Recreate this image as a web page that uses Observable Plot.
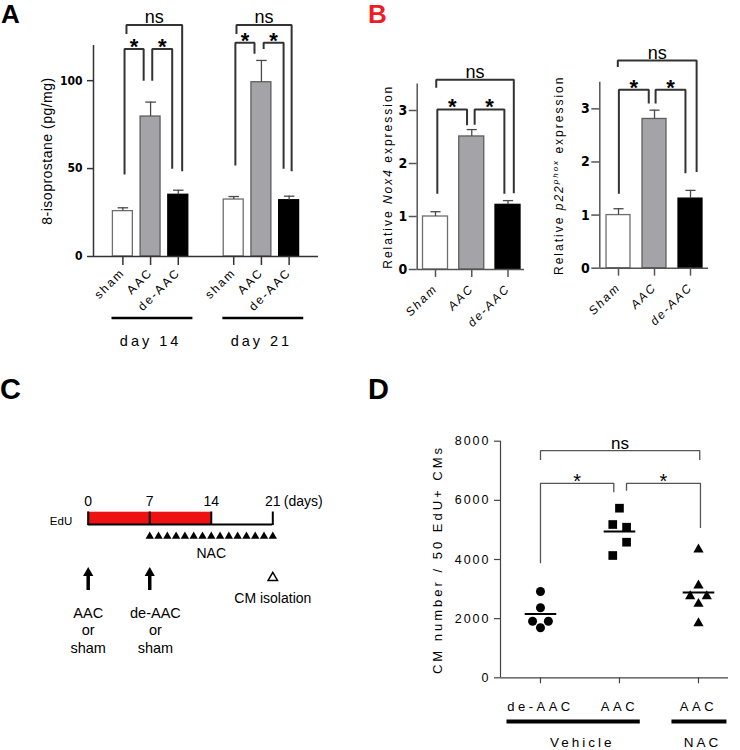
<!DOCTYPE html>
<html>
<head>
<meta charset="utf-8">
<script src="https://cdn.jsdelivr.net/npm/d3@7"></script>
<script src="https://cdn.jsdelivr.net/npm/@observablehq/plot@0.6"></script>
<style>
  body { margin: 0; background: #fff; }
  #root { position: relative; width: 740px; height: 750px; overflow: hidden; background: #fff;
          font-family: "Liberation Sans", Arial, Helvetica, sans-serif; color: #000; }
  .letter { position: absolute; font-weight: bold; line-height: 1; }
  #pA g[aria-label="x-axis tick label"] text { font-size: 12px; letter-spacing: 2px; }
  #pB1 g[aria-label="x-axis tick label"] text,
  #pB2 g[aria-label="x-axis tick label"] text { font-size: 12px; letter-spacing: 2px; font-style: italic; }
  #pA g[aria-label="y-axis tick label"] text,
  #pB1 g[aria-label="y-axis tick label"] text,
  #pB2 g[aria-label="y-axis tick label"] text {
    font-family: "Liberation Sans Narrow", "Arial Narrow", "DejaVu Sans Condensed", "Roboto Condensed", "Liberation Sans", sans-serif;
    font-weight: bold; font-stretch: condensed; }
  #pD g[aria-label="y-axis tick label"] text { letter-spacing: 2px; }
  #pD g[aria-label="x-axis tick label"] text { letter-spacing: 3.5px; }
  g[aria-description="a-ylabel"] text { letter-spacing: 0.5px; }
  g[aria-description="d-ylabel"] text { letter-spacing: 3px; }
  g[aria-description="group-label"] text { letter-spacing: 3px; }
</style>
</head>
<body>
<div id="root">
  <div class="letter" style="left:1px;top:1px;font-size:26px;">A</div>
  <div class="letter" style="left:368px;top:1px;font-size:26px;color:#ee1c24;">B</div>
  <div class="letter" style="left:0px;top:375px;font-size:29px;">C</div>
  <div class="letter" style="left:368px;top:375px;font-size:29px;">D</div>
</div>
<script>
const FONT = '"Liberation Sans", Arial, Helvetica, sans-serif';

// ---------------- Panel A: 8-isoprostane ----------------
const aCategories = ["sham", "AAC", "de-AAC"];
const aGroups = ["day 14", "day 21"];
const aDay14Mean = [25.8, 79.6, 35.1];
const aDay14Sem  = [1.9, 8.2, 2.6];
const aDay21Mean = [32.4, 99.1, 32.0];
const aDay21Sem  = [1.7, 12.4, 2.3];
const aYTicks = [0, 50, 100];
const aYLabel = "8-isoprostane (pg/mg)";
const aBrackets = [
  {x1: 0.06, x2: 0.75, top: 118,   y1: 46.6,  y2: 100,  label: "*"},
  {x1: 1.06, x2: 1.78, top: 118,   y1: 100,   y2: 49.9, label: "*"},
  {x1: 0.13, x2: 2.14, top: 131.6, y1: 126.6, y2: 48.5, label: "ns"},
  {x1: 4.06, x2: 4.75, top: 121.5, y1: 51.8,  y2: 115.3, label: "*"},
  {x1: 5.08, x2: 5.80, top: 121.5, y1: 118,   y2: 49.9, label: "*"},
  {x1: 4.10, x2: 6.09, top: 131.6, y1: 126.6, y2: 48.5, label: "ns"}
];

// ---------------- Panel B: Nox4 and p22phox ----------------
const bCategories = ["Sham", "AAC", "de-AAC"];
const nox4Mean = [1.0, 2.51, 1.22];
const nox4Sem  = [0.09, 0.13, 0.08];
const p22Mean  = [1.0, 2.81, 1.31];
const p22Sem   = [0.12, 0.165, 0.155];
const bYTicks = [0, 1, 2, 3];
const nox4Brackets = [
  {x1: 0.05, x2: 0.87, top: 3.02, y1: 1.43, y2: 2.72, label: "*"},
  {x1: 1.08, x2: 1.90, top: 3.02, y1: 2.73, y2: 1.43, label: "*"},
  {x1: 0.02, x2: 2.16, top: 3.58, y1: 3.43, y2: 1.44, label: "ns"}
];
const p22Brackets = [
  {x1: 0.01, x2: 0.84, top: 3.36, y1: 1.40, y2: 3.10, label: "*"},
  {x1: 1.03, x2: 1.86, top: 3.36, y1: 3.10, y2: 1.79, label: "*"},
  {x1: -0.02, x2: 2.17, top: 3.91, y1: 3.79, y2: 1.81, label: "ns"}
];

// ---------------- Panel C: protocol timeline ----------------
const cDays = [0, 7, 14, 21];
const cDayLabels = ["0", "7", "14", "21"];
const cEduPeriod = [0, 14];
const cNacDays = [7, 8, 9, 10, 11, 12, 13, 14, 15, 16, 17, 18, 19, 20, 21];
const cEvents = [
  {day: 0, textDay: 0,    text: "AAC\nor\nsham"},
  {day: 7, textDay: 7.65, text: "de-AAC\nor\nsham"}
];
const cIsolationDay = 21;

// ---------------- Panel D: CM number ----------------
const dCategories = ["de-AAC", "AAC", "AAC"];
const dDeAAC = [2918, 2367, 1914, 1914, 1691];
const dDeAACJitter = [0, 0, -0.10, 0.10, 0];
const dAAC = [5735, 5183, 5092, 4585, 4135];
const dAACJitter = [0, -0.085, 0.09, 0.09, -0.085];
const dNAC = [4338, 3121, 2759, 2759, 2502, 1846];
const dNACJitter = [0, 0, -0.105, 0.105, 0, 0];
const dYTicks = [0, 2000, 4000, 6000, 8000];
const dYLabel = "CM number / 50 EdU+ CMs";
const dGroups = [
  {name: "Vehicle", x1: -0.43, x2: 1.257, at: 0.53},
  {name: "NAC",     x1: 1.658, x2: 2.354, at: 2.05}
];
const dBrackets = [
  {x1: 0,     x2: 0.928, top: 6574, y1: 3872, y2: 6270, label: "*"},
  {x1: 1.089, x2: 2.025, top: 6574, y1: 6326, y2: 5068, label: "*"},
  {x1: 0,     x2: 2.016, top: 7679, y1: 7365, y2: 7365, label: "ns"}
];

// ---------------- helpers ----------------
const intFmt = d => String(d);
const barStyle = [
  {fill: "#ffffff", stroke: "#6e6e6e"},
  {fill: "#a4a4a8", stroke: "#5e5e5e"},
  {fill: "#000000", stroke: "#000000"}
];

function place(node, id, left, top) {
  node.id = id;
  node.style.position = "absolute";
  node.style.left = left + "px";
  node.style.top = top + "px";
  node.style.overflow = "visible";
  document.getElementById("root").append(node);
  return node;
}

function bracketPoints(brs) {
  return brs.flatMap((b, i) => [
    {id: i, x: b.x1, y: b.y1},
    {id: i, x: b.x1, y: b.top},
    {id: i, x: b.x2, y: b.top},
    {id: i, x: b.x2, y: b.y2}
  ]);
}

function bracketMarks(brs, o) {
  return [
    Plot.line(bracketPoints(brs), {x: "x", y: "y", z: "id", stroke: o.stroke, strokeWidth: o.width,
      strokeLinejoin: "miter", strokeLinecap: "butt"}),
    Plot.text(brs.filter(b => b.label === "*"), {x: b => (b.x1 + b.x2) / 2, y: "top", text: "label",
      fontSize: o.starSize, fontWeight: o.starWeight, lineAnchor: "bottom", dy: o.starDy, fill: "#000"}),
    Plot.text(brs.filter(b => b.label === "ns"), {x: b => (b.x1 + b.x2) / 2, y: "top", text: "label",
      fontSize: o.nsSize, lineAnchor: "bottom", dy: o.nsDy, fill: "#000"})
  ];
}

function barMarks(bars, hw, capHw) {
  return [
    ...barStyle.map((s, ci) => Plot.rect(bars.filter(d => d.ci === ci), {
      x1: d => d.pos - hw, x2: d => d.pos + hw, y1: 0, y2: "mean",
      fill: s.fill, stroke: s.stroke, strokeWidth: 1.3})),
    Plot.ruleX(bars, {x: "pos", y1: "mean", y2: d => d.mean + d.sem, stroke: "#4a4a4a", strokeWidth: 1.3}),
    Plot.link(bars, {x1: d => d.pos - capHw, x2: d => d.pos + capHw,
      y1: d => d.mean + d.sem, y2: d => d.mean + d.sem, stroke: "#4a4a4a", strokeWidth: 1.3})
  ];
}

// ---------------- Panel A ----------------
const aBars = aGroups.flatMap((g, gi) => aCategories.map((c, ci) => ({
  group: g, cat: c, ci, pos: gi * 4 + ci,
  mean: gi ? aDay21Mean[ci] : aDay14Mean[ci],
  sem: gi ? aDay21Sem[ci] : aDay14Sem[ci]
})));
const aSpans = aGroups.map((g, gi) => ({name: g, x1: gi * 4 - 0.41, x2: gi * 4 + 2.51, at: gi * 4 + 1}));

const plotA = Plot.plot({
  width: 370, height: 350,
  marginLeft: 93, marginRight: 52, marginTop: 45, marginBottom: 94,
  x: {domain: [-1.06, 7.06]},
  y: {domain: [0, 120]},
  style: {fontFamily: FONT, color: "#000", overflow: "visible", background: "transparent"},
  marks: [
    ...barMarks(aBars, 0.36, 0.19),
    Plot.ruleY([0], {stroke: "#333", strokeWidth: 1.5}),
    Plot.ruleX([-1.06], {stroke: "#333", strokeWidth: 1.5}),
    Plot.axisY({ticks: aYTicks, tickFormat: intFmt, tickSize: 6, tickPadding: 5, fontSize: 12, fontWeight: "bold",
      stroke: "#333", strokeWidth: 1.5, label: null}),
    Plot.axisX({ticks: aBars.map(d => d.pos), tickFormat: p => aCategories[p % 4], tickRotate: -45,
      tickSize: 9, tickPadding: 5, fontSize: 12, stroke: "#333", strokeWidth: 1.5, label: null}),
    ...bracketMarks(aBrackets, {stroke: "#333", width: 2, starSize: 22, starWeight: "bold", starDy: 5, nsSize: 18, nsDy: -2}),
    Plot.link(aSpans, {x1: "x1", x2: "x2", y1: -35, y2: -35, stroke: "#000", strokeWidth: 2.5}),
    Plot.text(aSpans, {x: "at", y: -48.5, text: "name", fontSize: 14.5, lineAnchor: "middle", ariaDescription: "group-label"}),
    Plot.text([aYLabel], {frameAnchor: "left", rotate: -90, dx: -46, fontSize: 14, textAnchor: "middle",
      lineAnchor: "middle", ariaDescription: "a-ylabel"})
  ]
});
place(plotA, "pA", 0, 0);

// ---------------- Panel B ----------------
function bPanel(means, sems, brackets, geo, labelKey) {
  const bars = bCategories.map((c, ci) => ({cat: c, ci, pos: ci, mean: means[ci], sem: sems[ci]}));
  return Plot.plot({
    width: geo.width, height: 350,
    marginLeft: geo.ml, marginRight: geo.mr, marginTop: geo.mt, marginBottom: geo.mb,
    x: {domain: geo.xDomain},
    y: {domain: [0, 3.5]},
    style: {fontFamily: FONT, color: "#000", overflow: "visible", background: "transparent"},
    marks: [
      ...barMarks(bars, geo.hw, 0.14),
      Plot.ruleY([0], {stroke: "#555", strokeWidth: 1.5}),
      Plot.ruleX([geo.xDomain[0]], {stroke: "#555", strokeWidth: 1.5}),
      Plot.axisY({ticks: bYTicks, tickFormat: intFmt, tickSize: 8, tickPadding: 2, fontSize: 14, fontWeight: "bold",
        stroke: "#555", strokeWidth: 1.5, label: null}),
      Plot.axisX({ticks: bars.map(d => d.pos), tickFormat: p => bCategories[p], tickRotate: -45,
        tickSize: 8, tickPadding: 9, fontSize: 12, stroke: "#555", strokeWidth: 1.5, label: null}),
      ...bracketMarks(brackets, {stroke: "#333", width: 2, starSize: 22, starWeight: "bold", starDy: 5, nsSize: 18, nsDy: -2}),
      Plot.text([labelKey], {frameAnchor: "left", rotate: -90, dx: geo.labelDx, fontSize: 12, textAnchor: "middle",
        lineAnchor: "middle", ariaDescription: labelKey})
    ]
  });
}

const plotB1 = bPanel(nox4Mean, nox4Sem, nox4Brackets,
  {width: 175, ml: 46.7, mr: 21, mt: 83.5, mb: 81, xDomain: [-0.505, 2.455], hw: 0.345, labelDx: -29}, "nox4-label");
place(plotB1, "pB1", 370, 0);
const plotB2 = bPanel(p22Mean, p22Sem, p22Brackets,
  {width: 195, ml: 54.3, mr: 32, mt: 81.8, mb: 82.3, xDomain: [-0.52, 2.5], hw: 0.333, labelDx: -41}, "p22-label");
place(plotB2, "pB2", 545, 0);

function richLabel(svg, key, parts) {
  const t = d3.select(svg).selectAll("text").filter(function() { return this.textContent === key; });
  t.text(null).style("letter-spacing", "2px");
  parts.forEach(p => {
    const s = t.append("tspan").text(p.text);
    if (p.italic) s.attr("font-style", "italic");
    if (p.size) s.attr("font-size", p.size);
    if (p.dy) s.attr("dy", p.dy);
  });
}
richLabel(plotB1, "nox4-label", [{text: "Relative "}, {text: "Nox4", italic: true}, {text: " expression"}]);
richLabel(plotB2, "p22-label", [{text: "Relative "}, {text: "p22", italic: true},
  {text: "phox", italic: true, size: 8, dy: -5}, {text: " expression", dy: 5}]);

// ---------------- Panel C ----------------
// vertical layout levels of the diagram (top-down)
const plotC = Plot.plot({
  width: 370, height: 300,
  marginLeft: 87.7, marginRight: 97.7, marginTop: 0, marginBottom: 0,
  x: {domain: [0, 21], axis: null},
  y: {domain: [0, 300], range: [0, 300], axis: null},
  style: {fontFamily: FONT, color: "#000", overflow: "visible", background: "transparent"},
  marks: [
    Plot.rect([cEduPeriod], {x1: d => d[0], x2: d => d[1], y1: 141.7, y2: 154, fill: "#ee1111"}),
    Plot.ruleY([154], {x1: cDays[0], x2: cDays[cDays.length - 1], stroke: "#000", strokeWidth: 2}),
    Plot.ruleX(cDays, {y1: 141.5, y2: 155, stroke: "#000", strokeWidth: 2}),
    Plot.text(cDays, {x: d => d, y: 131.3, text: (d, i) => cDayLabels[i], fontSize: 14, lineAnchor: "middle"}),
    Plot.text(["(days)"], {x: cDays[cDays.length - 1], y: 131.3, dx: 11, textAnchor: "start", fontSize: 14, lineAnchor: "middle"}),
    Plot.text(["EdU"], {x: cEduPeriod[0], y: 150.5, dx: -16, textAnchor: "end", fontSize: 11.5, lineAnchor: "middle"}),
    Plot.dot(cNacDays, {x: d => d, y: 165.8, symbol: "triangle", r: 3.1, fill: "#000"}),
    Plot.text(["NAC"], {x: 14, y: 182.7, fontSize: 14, lineAnchor: "middle"}),
    Plot.ruleX(cEvents, {x: "day", y1: 204, y2: 220, stroke: "#000", strokeWidth: 3.5}),
    Plot.dot(cEvents, {x: "day", y: 202.5, symbol: "triangle", r: 3.8, fill: "#000"}),
    Plot.text(cEvents, {x: "textDay", y: 259.3, text: "text", fontSize: 14.5, lineHeight: 1.2, lineAnchor: "middle"}),
    Plot.dot([cIsolationDay], {x: d => d, y: 207.2, symbol: "triangle", r: 3.5, fill: "#fff", stroke: "#000", strokeWidth: 1.5}),
    Plot.text(["CM isolation"], {x: cIsolationDay, y: 228.3, fontSize: 14, lineAnchor: "middle"})
  ]
});
place(plotC, "pC", 0, 370);

// ---------------- Panel D ----------------
const dSets = [
  {ci: 0, values: dDeAAC, jitter: dDeAACJitter, symbol: "circle", r: 4.5},
  {ci: 1, values: dAAC, jitter: dAACJitter, symbol: "square", r: 4.9},
  {ci: 2, values: dNAC, jitter: dNACJitter, symbol: "triangle", r: 3.8}
];
const dMeans = dSets.map(s => ({ci: s.ci, mean: d3.mean(s.values)}));

const plotD = Plot.plot({
  width: 370, height: 380,
  marginLeft: 130, marginRight: 12, marginTop: 70.7, marginBottom: 72.7,
  x: {domain: [-0.506, 2.38]},
  y: {domain: [0, 8000]},
  style: {fontFamily: FONT, color: "#000", overflow: "visible", background: "transparent"},
  marks: [
    Plot.ruleY([0], {stroke: "#444", strokeWidth: 1.2}),
    Plot.ruleX([-0.506], {stroke: "#444", strokeWidth: 1.2}),
    Plot.axisY({ticks: dYTicks, tickFormat: intFmt, tickSize: 6, tickPadding: 4, fontSize: 12.5, stroke: "#444", strokeWidth: 1.2, label: null}),
    Plot.axisX({ticks: [0, 1, 2], tickFormat: i => dCategories[i], tickSize: 6, tickPadding: 18, fontSize: 13,
      stroke: "#444", strokeWidth: 1.2, label: null}),
    ...dSets.map(s => Plot.dot(s.values.map((v, i) => ({v, x: s.ci + s.jitter[i]})),
      {x: "x", y: "v", symbol: s.symbol, r: s.r, fill: "#000"})),
    Plot.link(dMeans, {x1: d => d.ci - 0.2, x2: d => d.ci + 0.2, y1: "mean", y2: "mean", stroke: "#000", strokeWidth: 2}),
    ...bracketMarks(dBrackets, {stroke: "#555", width: 1.3, starSize: 20, starWeight: "normal", starDy: 5, nsSize: 17, nsDy: -2}),
    Plot.link(dGroups, {x1: "x1", x2: "x2", y1: -1478, y2: -1478, stroke: "#000", strokeWidth: 4}),
    Plot.text(dGroups, {x: "at", y: -2178, text: "name", fontSize: 13.5, lineAnchor: "middle", ariaDescription: "group-label"}),
    Plot.text([dYLabel], {frameAnchor: "left", rotate: -90, dx: -63, fontSize: 13, textAnchor: "middle",
      lineAnchor: "middle", ariaDescription: "d-ylabel"})
  ]
});
place(plotD, "pD", 370, 370);
</script>
</body>
</html>
